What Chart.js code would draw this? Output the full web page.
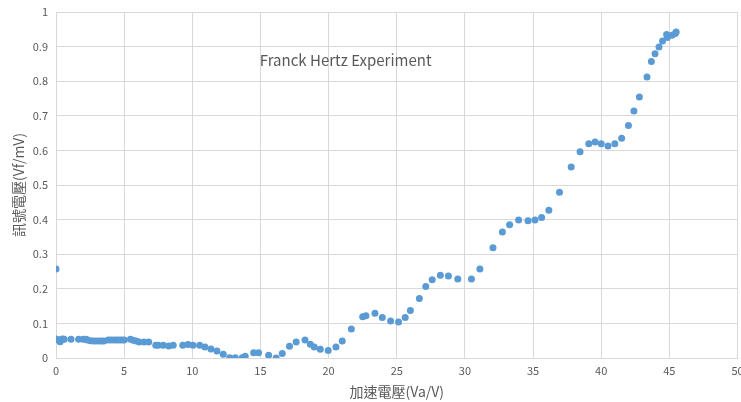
<!DOCTYPE html>
<html>
<head>
<meta charset="utf-8">
<script src="https://cdn.jsdelivr.net/npm/chart.js@4/dist/chart.umd.min.js"></script>
<style>
  html, body { margin: 0; padding: 0; background: #fff; }
  #wrap { width: 741px; height: 402px; }
</style>
</head>
<body>
<div id="wrap"><canvas id="myChart" width="741" height="402"></canvas></div>
<script>
  const chartTitle = 'Franck Hertz Experiment';
  const xTitle = '加速電壓(Va/V)';
  const yTitle = '訊號電壓(Vf/mV)';

  // accelerating voltage (Va/V)
  const voltage = [
    0, 0, 0.15, 0.3, 0.4, 0.5, 0.6,
    1.1, 1.66, 2.0, 2.2, 2.3, 2.53, 2.73, 2.93, 3.15, 3.34, 3.51,
    3.83, 4.03, 4.25, 4.44, 4.64, 4.83, 5.0, 5.46, 5.66, 5.88, 6.1, 6.46, 6.8,
    7.32, 7.5, 7.87, 8.27, 8.6, 9.3, 9.69, 10.05, 10.54, 10.93, 11.37, 11.81,
    12.27, 12.74, 13.15, 13.66, 13.88, 14.5, 14.86, 15.6, 16.15, 16.6, 17.13,
    17.62, 18.27, 18.66, 18.95, 19.39, 19.97, 20.54, 21.0, 21.67, 22.5, 22.74,
    23.4, 23.94, 24.55, 25.13, 25.62, 26.0, 26.66, 27.13, 27.6, 28.2, 28.79,
    29.48, 30.48, 31.1, 32.06, 32.75, 33.28, 33.94, 34.63, 35.14, 35.63, 36.16,
    36.94, 37.8, 38.45, 39.09, 39.55, 40.0, 40.5, 41.0, 41.5, 42.0, 42.4, 42.8,
    43.36, 43.68, 43.95, 44.24, 44.5, 44.8, 44.85, 45.19, 45.44, 45.5
  ];

  // signal voltage (Vf/mV)
  const signal = [
    0.257, 0.055, 0.052, 0.047, 0.054, 0.055, 0.054,
    0.054, 0.054, 0.054, 0.054, 0.052, 0.050, 0.049, 0.049, 0.049, 0.049, 0.049,
    0.052, 0.052, 0.052, 0.052, 0.052, 0.052, 0.052, 0.054, 0.051, 0.049, 0.046, 0.046, 0.046,
    0.037, 0.037, 0.037, 0.035, 0.037, 0.037, 0.039, 0.037, 0.037, 0.032, 0.026, 0.020,
    0.011, 0.001, 0.001, 0.001, 0.005, 0.015, 0.015, 0.008, 0.000, 0.013, 0.034,
    0.046, 0.052, 0.040, 0.032, 0.025, 0.022, 0.032, 0.049, 0.084, 0.119, 0.122,
    0.129, 0.117, 0.107, 0.104, 0.117, 0.137, 0.172, 0.207, 0.226, 0.239, 0.237,
    0.228, 0.228, 0.257, 0.319, 0.364, 0.385, 0.399, 0.397, 0.399, 0.406, 0.427,
    0.479, 0.552, 0.596, 0.619, 0.624, 0.619, 0.613, 0.619, 0.635, 0.672, 0.714, 0.754,
    0.812, 0.857, 0.879, 0.899, 0.916, 0.935, 0.926, 0.933, 0.938, 0.942
  ];

  const fontFamily = "'Noto Sans CJK TC', 'Noto Sans', sans-serif";
  const textColor = '#595959';
  const gridColor = '#d9d9d9';

  // title sits inside the plot area, like the Excel original
  const innerTitle = {
    id: 'innerTitle',
    afterDraw(chart) {
      const a = chart.chartArea;
      const ctx = chart.ctx;
      ctx.save();
      ctx.font = '15px ' + fontFamily;
      ctx.fillStyle = textColor;
      ctx.textAlign = 'center';
      ctx.textBaseline = 'middle';
      ctx.fillText(chartTitle, a.left + a.width * 0.425, a.top + 48);
      ctx.restore();
    }
  };

  const data = {
    datasets: [{
      data: voltage.map((v, i) => ({ x: v, y: signal[i] })),
      backgroundColor: '#5b9bd5',
      borderColor: '#5b9bd5',
      pointRadius: 3.5,
      pointHoverRadius: 3.5,
      borderWidth: 0
    }]
  };

  const config = {
    type: 'scatter',
    data: data,
    plugins: [innerTitle],
    options: {
      responsive: false,
      animation: false,
      layout: { padding: { top: 12, right: 0, left: 0, bottom: 0 } },
      plugins: {
        legend: { display: false },
        tooltip: { enabled: false },
        title: { display: false }
      },
      scales: {
        x: {
          type: 'linear',
          min: 0,
          max: 50,
          ticks: { stepSize: 5, color: textColor, font: { family: fontFamily, size: 11 }, padding: 6, maxRotation: 0 },
          grid: { color: gridColor, drawTicks: false },
          border: { color: gridColor },
          title: { display: true, text: xTitle, color: textColor, font: { family: fontFamily, size: 14 }, padding: { top: 0, bottom: 2 } },
          afterFit(scale) { scale.height = 44; scale.paddingLeft = 0; scale.paddingRight = 0; }
        },
        y: {
          min: 0,
          max: 1,
          ticks: {
            stepSize: 0.1,
            color: textColor,
            font: { family: fontFamily, size: 11 },
            padding: 8,
            callback: (value) => String(Number(value.toFixed(1)))
          },
          grid: { color: gridColor, drawTicks: false },
          border: { color: gridColor },
          title: { display: true, text: yTitle, color: textColor, font: { family: fontFamily, size: 14 }, padding: { top: 10, bottom: 0 } },
          afterFit(scale) { scale.width = 56; scale.paddingTop = 0; scale.paddingBottom = 0; }
        }
      }
    }
  };

  const myChart = new Chart(document.getElementById('myChart'), config);
</script>
</body>
</html>
